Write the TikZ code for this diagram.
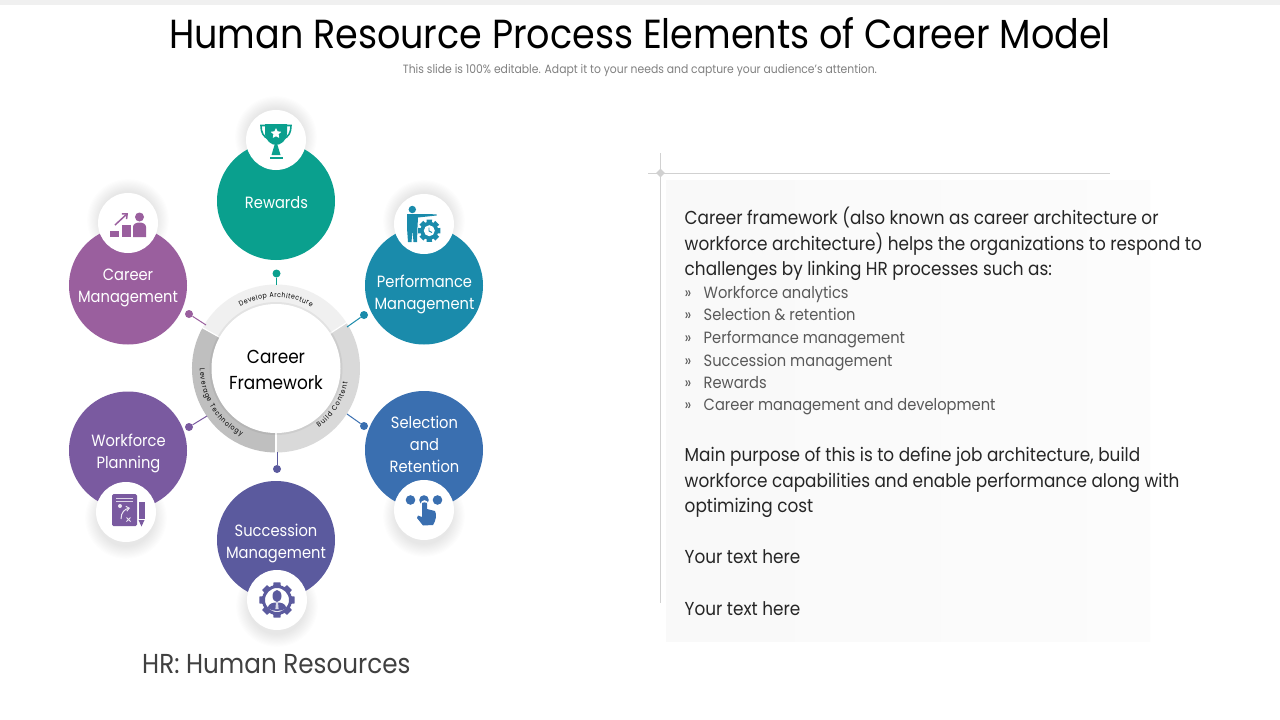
\documentclass[tikz,border=0pt]{standalone}
\usepackage{fontspec}
\setmainfont{Poppins}[FakeStretch=0.9]
\usetikzlibrary{decorations.text,calc,shapes.geometric,arrows.meta}
\definecolor{cRew}{HTML}{0AA08E}
\definecolor{cCar}{HTML}{9A5F9E}
\definecolor{cPer}{HTML}{1A8BAB}
\definecolor{cSel}{HTML}{3A6FB0}
\definecolor{cWor}{HTML}{7A5AA0}
\definecolor{cSuc}{HTML}{5B5A9E}
\tikzset{
 big/.style={circle,minimum size=118pt,inner sep=0pt,fill=#1},
 bigtext/.style={inner sep=0pt,text=white,align=center,font=\fontsize{16.3}{22}\selectfont},
 badge/.style={circle,minimum size=60pt,inner sep=0pt,fill=white},
 pin/.style={circle,minimum size=8pt,inner sep=0pt,fill=#1},
 pinline/.style={line width=1pt,draw=#1},
 body/.style={anchor=base west,inner sep=0pt,text=black!85,font=\fontsize{18.75}{18}\selectfont},
 item/.style={anchor=base west,inner sep=0pt,text=black!65,font=\fontsize{16.3}{18}\selectfont},
 arctext/.style={decorate,decoration={text along path,text align={fit to path},text={#1}}}
}
% soft shadow: centre x, centre y, vertical offset
\newcommand{\softshadow}[3]{%
 \foreach \k in {1,...,12}{\fill[black,opacity=0.008] (#1,#2+#3) circle[radius={(30+12-\k*1.1)*1pt}];}}
\begin{document}
\begin{tikzpicture}[x=1pt,y=-1pt]
\useasboundingbox (0,0) rectangle (1280,720);
\fill[white] (0,0) rectangle (1280,720);
\fill[black!6] (0,0) rectangle (1280,4.5);
% header
\node[inner sep=0pt,text=black,font=\fontsize{40.6}{44}\selectfont] (title) at (640,33.5) {Human Resource Process Elements of Career Model};
\node[inner sep=0pt,text=black!50,font=\fontsize{12}{12}\selectfont] (sub) at (640,70.5) {This slide is 100\% editable. Adapt it to your needs and capture your audience’s attention.};
% right panel
\shade[left color=black!2.5,right color=black!1.2] (666,180) rectangle (1150,641);
\coordinate (hl) at (648,173); \coordinate (hr) at (1110,173);
\coordinate (vt) at (660.5,153); \coordinate (vb) at (660.5,603);
\draw[black!18,line width=1pt] (hl) -- (hr);
\draw[black!18,line width=1pt] (vt) -- (vb);
\node[diamond,aspect=1,fill=black!18,inner sep=0pt,minimum size=9pt] (star) at (660.5,173) {};
% ring
\coordinate (c) at (276,368.5);
\fill[black!6] ($(c)+(151:84pt)$) arc[start angle=151,end angle=33,radius=84pt] -- ($(c)+(33:64pt)$) arc[start angle=33,end angle=151,radius=64pt] -- cycle;
\fill[black!15] ($(c)+(33:84pt)$) arc[start angle=33,end angle=-90,radius=84pt] -- ($(c)+(-90:64pt)$) arc[start angle=-90,end angle=33,radius=64pt] -- cycle;
\fill[black!25] ($(c)+(151:84pt)$) arc[start angle=151,end angle=270,radius=84pt] -- ($(c)+(270:64pt)$) arc[start angle=270,end angle=151,radius=64pt] -- cycle;
\draw[white,line width=1.2pt] ($(c)+(151:64pt)$) -- ($(c)+(151:85pt)$);
\draw[white,line width=1.2pt] ($(c)+(33:64pt)$) -- ($(c)+(33:85pt)$);
\draw[white,line width=1.2pt] ($(c)+(-90:64pt)$) -- ($(c)+(-90:85pt)$);
\fill[black,opacity=0.05] (c) circle[radius=66.5pt];
\node[circle,fill=white,minimum size=129pt,inner sep=0pt] (center) at (c) {};
\node[inner sep=0pt,align=center,text=black,font=\fontsize{18.8}{26}\selectfont] (centerlabel) at (276,370) {Career\\Framework};
\path[arctext={|\fontsize{7}{8}\selectfont|Develop Architecture}] ($(c)+(120:71pt)$) arc[start angle=120,end angle=60,radius=71pt];
\path[arctext={|\fontsize{7}{8}\selectfont|Build Content}] ($(c)+(-54:73pt)$) arc[start angle=-54,end angle=-11,radius=73pt];
\path[arctext={|\fontsize{7}{8}\selectfont|Leverage Technology}] ($(c)+(180:76pt)$) arc[start angle=180,end angle=243,radius=76pt];
% connectors
\node[pin=cRew] (pR) at (276.5,273.5) {};
\node[pin=cCar] (pC) at (189,314) {};
\node[pin=cPer] (pP) at (364,315) {};
\node[pin=cSel] (pS) at (364,426) {};
\node[pin=cWor] (pW) at (189,427) {};
\node[pin=cSuc] (pU) at (277,469) {};
\coordinate (rR) at (276.5,285);\coordinate (rC) at (206,325);\coordinate (rP) at (347,327);
\coordinate (rS) at (347,414);\coordinate (rW) at (207,416);\coordinate (rU) at (277,452);
\draw[pinline=cRew] (pR) -- (rR);
\draw[pinline=cCar] (pC) -- (rC);
\draw[pinline=cPer] (pP) -- (rP);
\draw[pinline=cSel] (pS) -- (rS);
\draw[pinline=cWor] (pW) -- (rW);
\draw[pinline=cSuc] (pU) -- (rU);
% shadows sit under the big circles
\softshadow{276}{140}{-3}
\softshadow{128}{223}{-3}
\softshadow{424}{224}{-3}
\softshadow{424}{510}{6}
\softshadow{126}{512}{6}
\softshadow{277}{600}{6}
% big circles
\node[big=cRew] (nR) at (276,201) {};
\node[big=cCar] (nC) at (128,285.5) {};
\node[big=cPer] (nP) at (424,285.5) {};
\node[big=cSel] (nS) at (424,450) {};
\node[big=cWor] (nW) at (128,450.5) {};
\node[big=cSuc] (nU) at (276,540) {};
\node[bigtext] (lR) at (276.5,203) {Rewards};
\node[bigtext] (lC) at (128,288) {Career\\Management};
\node[bigtext] (lP) at (424.5,294) {Performance\\Management};
\node[bigtext] (lS) at (424.5,444) {Selection\\and\\Retention};
\node[bigtext] (lW) at (128.5,453) {Workforce\\Planning};
\node[bigtext] (lU) at (276,543.5) {Succession\\Management};
% badges
\node[badge] (bR) at (276,140) {};
\node[badge] (bC) at (128,223) {};
\node[badge] (bP) at (424,224) {};
\node[badge] (bS) at (424,510) {};
\node[badge] (bW) at (126,512) {};
\node[badge] (bU) at (277,600) {};
% trophy
\begin{scope}[shift={(276,140)}]
 \draw[cRew,line width=1.6pt] (-9,-14.5) -- (-15,-14.5) .. controls (-15,-8) and (-13,-3) .. (-7,-1);
 \draw[cRew,line width=1.6pt] (9,-14.5) -- (15,-14.5) .. controls (15,-8) and (13,-3) .. (7,-1);
 \fill[cRew] (-11,-16) -- (11,-16) -- (11,-7) .. controls (11,1) and (4,5) .. (0,5) .. controls (-4,5) and (-11,1) .. (-11,-7) -- cycle;
 \node[star,star points=5,star point ratio=2,fill=white,inner sep=0pt,minimum size=11pt] (bRs) at (0,-6.5) {};
 \fill[cRew] (-1.5,5) -- (1.5,5) -- (4.5,15) -- (-4.5,15) -- cycle;
 \fill[cRew] (-6.5,17) rectangle (6.5,19);
\end{scope}
% career icon
\begin{scope}[shift={(128,223)}]
 \fill[cCar] (-18,8) rectangle (-9,14);
 \fill[cCar] (-6,2) rectangle (3,14);
 \fill[cCar] (5,14) -- (5,4) .. controls (5,-2) and (18,-2) .. (18,4) -- (18,14) -- cycle;
 \fill[cCar] (11.5,-6) circle[radius=4.5];
 \draw[cCar,line width=1.5pt,-{Straight Barb[length=4pt,width=7pt]}] (-13,2) -- (0,-10);
\end{scope}
% performance icon
\begin{scope}[shift={(424,224)}]
 \fill[cPer] (-11.7,-14.5) circle[radius=3.7];
 \fill[cPer] (-17,-10) -- (-9,-10) -- (12.5,-9.7) -- (12.5,-8.5) -- (-6,-6.5) -- (-6.5,3) -- (-7,18) -- (-10.5,18) -- (-11.5,6) -- (-12.5,18) -- (-16,18) -- (-17,4) -- cycle;
 \foreach \a in {0,45,...,315}{\fill[cPer] ($(5.3,6.7)+(\a-14:11.5pt)$) -- ($(5.3,6.7)+(\a+14:11.5pt)$) -- ($(5.3,6.7)+(\a+20:7pt)$) -- ($(5.3,6.7)+(\a-20:7pt)$) -- cycle;}
 \fill[cPer] (5.3,6.7) circle[radius=9];
 \fill[white] (5.3,6.7) circle[radius=5.5];
 \draw[cPer,line width=0.9pt] (5,3.5) -- (5,7) -- (8,8.5);
\end{scope}
% selection icon
\begin{scope}[shift={(424,510)}]
 \fill[cSel] (-13.5,-10) circle[radius=4.8];
 \fill[cSel] (0,-10) circle[radius=4.8];
 \fill[cSel] (13.5,-10) circle[radius=4.8];
 \fill[white] (0.5,-6) circle[radius=3.8];
 \fill[cSel] (-2,-6.5) .. controls (-2,-8) and (3,-8) .. (3,-6.5) -- (3,-1) -- (11,1) .. controls (13,5) and (12,10) .. (9,15) -- (-1,15.5) -- (-7,8) -- (-6,5.5) -- (-2,7) -- cycle;
\end{scope}
% workforce icon
\begin{scope}[shift={(126,512)}]
 \fill[cWor,rounded corners=1.5pt] (-14,-18) rectangle (11,14);
 \fill[cWor] (12.5,-10) rectangle (18.5,7);
 \fill[cWor] (12.5,8) -- (18.5,8) -- (15.5,14.5) -- cycle;
 \draw[white!75!cWor,line width=1pt] (-10,-14) -- (7,-14);
 \draw[white!75!cWor,line width=1pt] (-10,-11) -- (7,-11);
 \fill[white!85!cWor] (-6,-6) circle[radius=2];
 \draw[white!85!cWor,line width=1pt,-{Straight Barb[length=3pt,width=5pt]}] (-5,7) .. controls (-5,0) and (-1,-3) .. (4,-4);
 \draw[white!85!cWor,line width=1pt] (0.5,5.5) -- (4.5,9.5) (4.5,5.5) -- (0.5,9.5);
\end{scope}
% succession icon
\begin{scope}[shift={(277,600)}]
 \foreach \a in {0,45,...,315}{\fill[cSuc] ($(0,0)+(\a-11:18pt)$) -- ($(0,0)+(\a+11:18pt)$) -- ($(0,0)+(\a+18:13pt)$) -- ($(0,0)+(\a-18:13pt)$) -- cycle;}
 \draw[cSuc,line width=3pt] (0,0) circle[radius=13.5];
 \fill[cSuc] (0,-4) ellipse[x radius=4.5,y radius=6];
 \fill[cSuc] (-9.5,8) .. controls (-8,3) and (-4,2.5) .. (0,2.5) .. controls (4,2.5) and (8,3) .. (9.5,8) .. controls (4,12) and (-4,12) .. (-9.5,8) -- cycle;
 \fill[white!75!cSuc] (-1,2.5) -- (1,2.5) -- (1.6,9) -- (-1.6,9) -- cycle;
\end{scope}
% footnote
\node[anchor=base west,inner sep=0pt,text=black!75,font=\fontsize{27.4}{30}\selectfont] (hrnote) at (142,673) {HR: Human Resources};
% right text
\node[body] (t1) at (684.5,224) {Career framework (also known as career architecture or};
\node[body] (t2) at (684.5,250.5) {workforce architecture) helps the organizations to respond to};
\node[body] (t3) at (684.5,275) {challenges by linking HR processes such as:};
\foreach \n/\y/\s in {i1/298/Workforce analytics,i2/320.5/Selection \& retention,i3/343/Performance management,i4/366/Succession management,i5/388/Rewards,i6/410.5/Career management and development}{
 \node[item] (\n a) at (684.5,\y) {»};
 \node[item] (\n) at (703.5,\y) {\s};
}
\node[body] (t4) at (684.5,461.5) {Main purpose of this is to define job architecture, build};
\node[body] (t5) at (684.5,487.5) {workforce capabilities and enable performance along with};
\node[body] (t6) at (684.5,512) {optimizing cost};
\node[body] (t7) at (684.5,563) {Your text here};
\node[body] (t8) at (684.5,615.5) {Your text here};
\end{tikzpicture}
\end{document}
